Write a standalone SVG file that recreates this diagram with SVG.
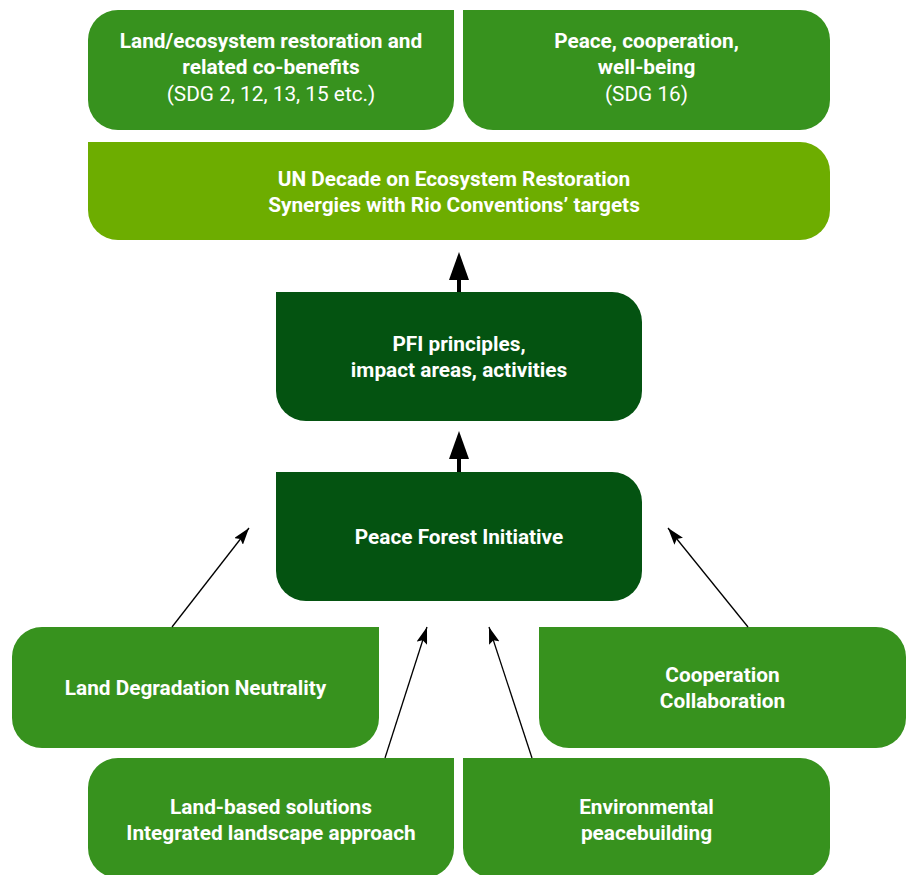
<svg xmlns="http://www.w3.org/2000/svg" width="909" height="875" viewBox="0 0 909 875">
<style>
.mid{fill:#37921e}
.dark{fill:#045311}
.light{fill:#6dad00}
text{font-family:Roboto,"Liberation Sans",sans-serif;font-size:20.8px;fill:#ffffff;text-anchor:middle}
.b{font-weight:bold}
.r{font-weight:normal}
.thin{stroke:#000;stroke-width:1.3;fill:none;marker-end:url(#ah)}
.thick{stroke:#000;stroke-width:4;fill:none}
</style>
<defs>
<marker id="ah" viewBox="0 0 17 11" refX="17" refY="5.5" markerWidth="17" markerHeight="11" markerUnits="userSpaceOnUse" orient="auto">
<path d="M0,0 L17,5.5 L0,11 L3,5.5 Z" fill="#000"/>
</marker>
</defs>
<rect width="909" height="875" fill="#ffffff"/>
<g id="n-land-restoration">
<path class="mid" d="M118,10 H454 V100 A30,30 0 0 1 424,130 H118 A30,30 0 0 1 88,100 V40 A30,30 0 0 1 118,10 Z"/>
<text x="271" y="48" class="b">Land/ecosystem restoration and</text>
<text x="271" y="74" class="b">related co-benefits</text>
<text x="271" y="101" class="r">(SDG 2, 12, 13, 15 etc.)</text>
</g>
<g id="n-peace">
<path class="mid" d="M463,10 H800 A30,30 0 0 1 830,40 V100 A30,30 0 0 1 800,130 H493 A30,30 0 0 1 463,100 Z"/>
<text x="646.5" y="48" class="b">Peace, cooperation,</text>
<text x="646.5" y="74" class="b">well-being</text>
<text x="646.5" y="101" class="r">(SDG 16)</text>
</g>
<g id="n-un-decade">
<path class="light" d="M88,142 H800 A30,30 0 0 1 830,172 V210 A30,30 0 0 1 800,240 H118 A30,30 0 0 1 88,210 Z"/>
<text x="454" y="186" class="b">UN Decade on Ecosystem Restoration</text>
<text x="454" y="212" class="b">Synergies with Rio Conventions’ targets</text>
</g>
<g id="n-pfi-principles">
<path class="dark" d="M276,292 H612 A30,30 0 0 1 642,322 V391 A30,30 0 0 1 612,421 H306 A30,30 0 0 1 276,391 Z"/>
<text x="459" y="351" class="b">PFI principles,</text>
<text x="459" y="377" class="b">impact areas, activities</text>
</g>
<g id="n-pfi">
<path class="dark" d="M276,472 H612 A30,30 0 0 1 642,502 V571 A30,30 0 0 1 612,601 H306 A30,30 0 0 1 276,571 Z"/>
<text x="459" y="544" class="b">Peace Forest Initiative</text>
</g>
<g id="n-ldn">
<path class="mid" d="M42,627 H379 V718 A30,30 0 0 1 349,748 H42 A30,30 0 0 1 12,718 V657 A30,30 0 0 1 42,627 Z"/>
<text x="195.5" y="695" class="b">Land Degradation Neutrality</text>
</g>
<g id="n-land-based">
<path class="mid" d="M118,758 H454 V848 A30,30 0 0 1 424,878 H118 A30,30 0 0 1 88,848 V788 A30,30 0 0 1 118,758 Z"/>
<text x="271" y="814" class="b">Land-based solutions</text>
<text x="271" y="840" class="b">Integrated landscape approach</text>
</g>
<g id="n-cooperation">
<path class="mid" d="M539,627 H876 A30,30 0 0 1 906,657 V718 A30,30 0 0 1 876,748 H569 A30,30 0 0 1 539,718 Z"/>
<text x="722.5" y="682" class="b">Cooperation</text>
<text x="722.5" y="708" class="b">Collaboration</text>
</g>
<g id="n-env-peace">
<path class="mid" d="M463,758 H800 A30,30 0 0 1 830,788 V848 A30,30 0 0 1 800,878 H493 A30,30 0 0 1 463,848 Z"/>
<text x="646.5" y="814" class="b">Environmental</text>
<text x="646.5" y="840" class="b">peacebuilding</text>
</g>
<g id="connectors">
<line class="thick" x1="459" y1="292" x2="459" y2="278"/>
<polygon points="459,252 449,280 469,280" fill="#000"/>
<line class="thick" x1="459" y1="472" x2="459" y2="457"/>
<polygon points="459,431 449,459 469,459" fill="#000"/>
<line class="thin" x1="172" y1="627" x2="249" y2="528"/>
<line class="thin" x1="385" y1="758" x2="427" y2="627"/>
<line class="thin" x1="532" y1="758" x2="489" y2="627"/>
<line class="thin" x1="748" y1="627" x2="668" y2="528"/>
</g>
</svg>
